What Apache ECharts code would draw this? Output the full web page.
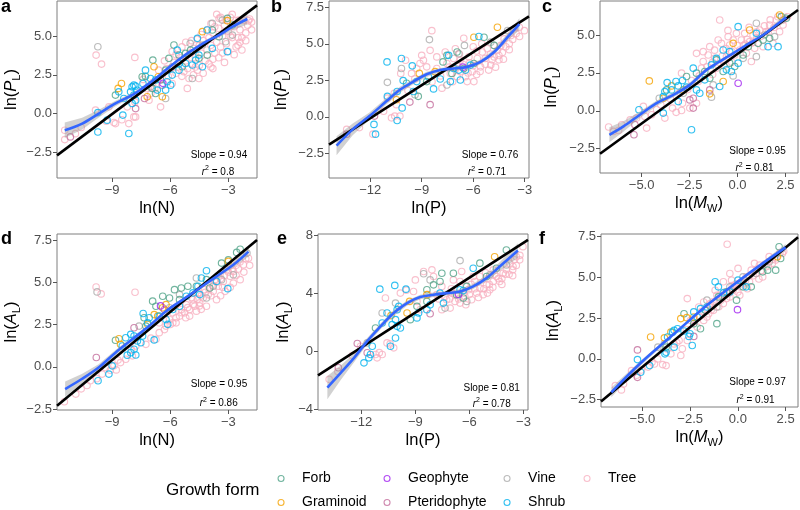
<!DOCTYPE html>
<html><head><meta charset="utf-8">
<script src="https://cdn.jsdelivr.net/npm/echarts@6/dist/echarts.min.js"></script>
<style>html,body{margin:0;padding:0;background:#fff}#c{width:800px;height:510px}</style>
</head><body><div id="c"></div>
<script>
// ---------------- DATA ----------------
// Panel a: x = ln(N), y = ln(P_L)
const a_Shrub = [[-9.74,0.06],[-9.74,-1.19],[-9.26,-0.43],[-8.45,-0.1],[-8.14,-1.29],[-8.66,1.4],[-8.4,0.97],[-7.97,1.72],[-7.88,1.83],[-7.79,1.77],[-7.71,1.5],[-8.05,1.4],[-7.88,1.19],[-7.79,0.86],[-7.97,0.65],[-7.28,2.8],[-7.41,1.94],[-7.02,2.26],[-6.76,2.16],[-6.67,1.51],[-6.24,1.51],[-6.16,2.05],[-5.98,1.83],[-5.9,2.48],[-5.64,4.09],[-5.55,3.23],[-5.21,3.23],[-4.86,3.13],[-4.69,3.45],[-4.52,3.77],[-4.6,4.85],[-4.34,3.02],[-4.09,5.39],[-3.83,4.2],[-3.05,3.99],[-5.55,2.8]];
const a_Forb = [[-8.83,1.19],[-7.45,2.37],[-7.28,2.4],[-6.93,1.62],[-6.76,1.29],[-6.5,2.16],[-6.24,2.8],[-6.07,3.56],[-5.81,4.42],[-5.55,3.77],[-5.38,3.02],[-5.21,3.88],[-4.95,4.09],[-4.52,3.56],[-4.09,3.77],[-3.83,5.39],[-3.48,4.96],[-3.05,6.14],[-2.79,5.71],[-6.9,3.45]];
const a_Graminoid = [[-8.52,1.94],[-8.69,1.62],[-7.19,1.08],[-6.84,3.02],[-6.62,2.37],[-6.41,1.08],[-4.34,5.28],[-3.05,5.99]];
const a_Vine = [[-9.74,4.31],[-7.02,1.72],[-6.24,0.97],[-5.9,3.02],[-4.97,4.53],[-4.34,4.42],[-3.83,5.82],[-3.31,6.03],[-3.14,4.63],[-2.79,5.06],[-4.86,2.26]];
const a_Pteridophyte = [[-11.16,-1.51],[-7.79,0.32],[-7.33,0.97],[-6.41,1.83]];
const a_Geophyte = [[-6.38,1.95]];
const a_Tree = [[-9.83,3.77],[-9.55,3.19],[-7.83,3.62],[-11.45,-1.68],[-11.45,-1.08],[-9.86,0.22],[-9.17,0.43],[-8.91,-0.58],[-8.83,-0.65],[-8.14,-0.65],[-7.88,-0.22],[-8.22,0.43],[-7.79,-0.22],[-7.83,0.75],[-6.5,0.43],[-7.1,0.86],[-5.9,1.94],[-5.12,1.62],[-4.52,2.26],[-5.03,2.26],[-6.0,2.9],[-5.8,3.3],[-5.6,3.0],[-5.5,3.6],[-5.3,2.7],[-5.2,3.4],[-5.0,3.9],[-4.9,3.2],[-4.8,4.2],[-4.7,3.6],[-4.6,2.8],[-4.5,4.4],[-4.4,3.9],[-4.3,4.7],[-4.2,3.4],[-4.1,4.1],[-4.0,4.9],[-3.9,4.4],[-3.8,5.2],[-3.7,3.9],[-3.6,4.6],[-3.5,5.5],[-3.4,4.3],[-3.3,5.0],[-3.2,5.7],[-3.1,4.5],[-3.0,5.3],[-2.9,6.2],[-2.8,4.9],[-2.7,5.6],[-2.6,6.0],[-2.5,4.9],[-2.4,5.4],[-2.2,6.0],[-2.0,5.7],[-1.9,6.1],[-4.4,5.1],[-3.9,5.8],[-3.4,6.2],[-5.4,4.3],[-5.9,4.0],[-6.3,3.4],[-6.6,2.8],[-6.9,2.0],[-7.2,1.6],[-7.4,2.2],[-6.1,2.4],[-3.8,3.5],[-3.3,3.9],[-2.6,4.3],[-2.3,4.9],[-4.9,4.7],[-3.6,6.4],[-2.8,6.4],[-3.48,6.14],[-2.45,6.03],[-1.97,5.99],[-10.6,-0.9],[-9.3,-0.5],[-8.5,-0.4],[-10.9,-1.3],[-5.7,2.6],[-5.4,2.4],[-5.1,2.9],[-4.8,2.5],[-4.5,3.1],[-4.3,2.6],[-4.0,3.2],[-3.8,2.9],[-3.5,3.6],[-3.2,3.3],[-3.0,4.0],[-2.7,3.8],[-2.5,4.4],[-2.3,4.1],[-2.1,4.7],[-2.1,5.2],[-1.8,5.9],[-1.8,5.4],[-2.9,5.0],[-3.1,6.0],[-3.7,5.6],[-4.1,5.4],[-4.6,4.8],[-5.2,4.6],[-5.7,3.8],[-6.2,2.9],[-6.5,2.2],[-6.8,1.6],[-7.0,1.3],[-4.7,3.0],[-3.9,3.0],[-2.4,4.6]];
const a_regX = [-11.85, -1.52];
const a_regY = [-2.7, 6.98];
const a_loX = [-11.45,-10.55,-9.69,-8.83,-7.97,-7.45,-6.76,-6.24,-5.55,-4.86,-4.17,-3.48,-2.79,-2.02];
const a_loY = [-1.08,-0.65,0.0,0.65,1.19,1.62,2.26,2.8,3.49,4.09,4.63,5.06,5.6,6.1];
const a_seW = [0.5,0.38,0.25,0.18,0.14,0.12,0.1,0.1,0.1,0.1,0.12,0.15,0.22,0.35];

// Panel b: x = ln(P), y = ln(P_L)
const b_Shrub = [[-11.02,3.76],[-10.18,3.99],[-9.55,3.49],[-10.08,2.48],[-11.0,1.4],[-10.43,1.73],[-11.78,-0.52],[-11.69,-1.19],[-10.43,-0.25],[-10.14,0.61],[-9.49,1.73],[-9.29,2.41],[-8.31,1.91],[-7.92,2.59],[-7.43,4.21],[-7.14,3.31],[-6.84,3.2],[-6.45,3.2],[-6.16,3.54],[-5.67,5.5],[-7.33,2.41],[-6.75,2.52],[-8.61,2.75]];
const b_Forb = [[-8.71,2.41],[-7.76,3.76],[-7.53,4.21],[-7.24,2.97],[-6.94,4.44],[-6.55,3.31],[-5.37,5.45],[-5.96,3.65],[-9.2,1.4],[-9.88,2.3],[-4.78,4.89]];
const b_Graminoid = [[-9.14,2.97],[-10.47,1.17],[-5.96,5.45],[-4.59,6.13],[-8.22,3.09]];
const b_Vine = [[-11.0,2.36],[-10.18,3.31],[-8.55,5.29],[-6.51,4.89],[-6.84,4.32],[-9.39,1.51],[-4.98,5.11],[-4.0,5.9],[-7.53,2.18]];
const b_Pteridophyte = [[-13.37,-1.19],[-11.75,0.05],[-9.69,1.01],[-8.51,0.83]];
const b_Geophyte = [[-6.6,3.4]];
const b_Tree = [[-13.37,-0.86],[-12.63,-0.74],[-11.84,-1.19],[-11.22,0.38],[-10.76,-0.07],[-10.57,0.05],[-10.27,0.05],[-11.0,1.28],[-10.47,0.83],[-10.22,2.97],[-9.94,3.87],[-9.59,2.97],[-9.1,3.65],[-9.0,4.21],[-8.51,4.55],[-8.41,5.9],[-8.12,4.1],[-7.82,1.96],[-8.9,3.87],[-7.53,3.65],[-7.14,3.99],[-6.75,3.87],[-6.55,5.38],[-6.25,4.1],[-6.06,3.09],[-5.96,2.41],[-5.76,3.99],[-5.57,3.42],[-5.47,4.44],[-5.18,4.66],[-4.98,3.54],[-4.78,4.1],[-4.59,4.55],[-4.39,4.89],[-4.2,5.34],[-3.8,5.56],[-3.61,6.01],[-3.31,6.13],[-3.02,5.9],[-4.24,3.94],[-6.75,3.09],[-6.45,2.75],[-6.35,2.41],[-8.12,3.31],[-7.33,2.97],[-6.94,2.75],[-7.63,4.44],[-7.04,4.66],[-9.29,3.31],[-8.71,3.42],[-5.3,4.0],[-5.0,4.3],[-4.5,3.9],[-3.9,4.6],[-5.8,4.5],[-6.2,3.7],[-7.0,3.3],[-6.6,3.6],[-6.3,3.0],[-6.0,3.5],[-5.8,2.9],[-5.6,3.1],[-5.3,3.6],[-5.1,3.2],[-4.9,3.9],[-4.7,3.4],[-4.5,4.2],[-4.3,4.4],[-4.1,4.8],[-3.9,5.0],[-3.7,5.3],[-3.5,5.7],[-3.3,5.5],[-4.8,4.9],[-5.5,5.0],[-6.0,4.8],[-6.8,4.3],[-7.4,3.4],[-7.9,2.8],[-8.4,2.4],[-9.4,2.6],[-9.8,1.8],[-10.6,1.6],[-7.2,2.4]];
const b_regX = [-14.4, -2.75];
const b_regY = [-1.91, 6.88];
const b_loX = [-13.96,-13.02,-12.04,-11.06,-10.27,-9.49,-8.71,-7.92,-7.14,-6.35,-5.57,-4.78,-4.0,-3.31];
const b_loY = [-1.98,-0.86,0.05,1.06,1.85,2.41,2.91,3.2,3.31,3.42,3.76,4.44,5.45,6.35];
const b_seW = [0.65,0.4,0.25,0.22,0.2,0.18,0.18,0.15,0.15,0.15,0.15,0.18,0.25,0.4];

// Panel c: x = ln(M_W), y = ln(P_L)
const c_Shrub = [[-5.14,0.07],[-3.87,0.94],[-3.79,1.27],[-3.67,1.86],[-3.44,1.38],[-3.21,1.93],[-3.09,1.64],[-2.87,2.0],[-2.66,1.56],[-3.09,0.61],[-2.4,-1.25],[-2.31,2.81],[-2.14,1.38],[-1.97,1.16],[-1.71,2.04],[-1.36,3.03],[-1.1,3.46],[-0.93,1.6],[-0.75,4.01],[-0.41,3.9],[-0.32,2.59],[0.03,3.14],[0.03,5.55],[0.98,5.11],[1.59,4.23],[2.11,4.23],[-3.87,-0.15],[-0.58,2.7]];
const c_Forb = [[-3.7,1.38],[-2.66,2.26],[-2.14,2.48],[-1.71,2.59],[-1.45,2.15],[-1.1,3.36],[-0.75,2.59],[-0.41,3.14],[-0.15,2.92],[0.29,3.68],[0.55,4.23],[1.07,4.45],[1.33,4.67],[1.67,4.78],[2.28,6.21],[2.54,6.1]];
const c_Graminoid = [[-4.6,1.97],[-3.87,0.83],[-3.44,1.64],[-2.83,1.38],[-1.45,1.12],[-0.75,1.93],[-0.23,4.45],[0.63,5.33],[2.19,6.32]];
const c_Vine = [[-4.08,0.83],[-2.83,1.16],[-1.36,0.9],[-1.27,1.71],[-0.23,2.3],[0.29,3.46],[0.98,3.57],[0.98,5.77],[1.41,5.0],[1.93,4.89],[-1.97,2.15]];
const c_Pteridophyte = [[-5.35,-0.92],[-5.4,-1.58],[-2.49,0.72],[-2.31,0.83],[-1.45,1.38],[-2.31,0.18]];
const c_Geophyte = [[0.03,1.82]];
const c_Tree = [[-6.72,-1.07],[-6.47,-1.36],[-6.04,-0.92],[-5.26,-0.48],[-4.83,-0.37],[-4.91,0.29],[-4.74,-1.14],[-4.48,-0.26],[-4.22,0.07],[-3.79,-0.48],[-3.39,0.18],[-2.92,0.02],[-2.87,0.5],[-2.49,0.18],[-2.14,0.5],[-2.05,1.93],[-1.79,3.25],[-1.53,3.68],[-1.45,4.23],[-1.19,3.46],[-1.01,4.67],[-0.93,5.99],[-0.84,4.45],[-0.58,3.57],[-0.49,4.89],[-0.41,4.34],[-0.23,4.67],[-0.06,5.11],[0.11,4.01],[0.2,4.67],[0.37,5.11],[0.46,3.79],[0.63,4.56],[0.81,5.0],[0.89,4.12],[1.15,5.33],[1.33,4.23],[1.5,5.22],[1.67,5.66],[1.85,4.45],[2.02,5.99],[2.19,5.22],[2.37,5.66],[-1.88,2.81],[-1.1,2.81],[-1.79,3.9],[-0.15,3.68],[0.72,3.25],[-2.92,2.48],[-2.14,3.79],[-0.3,3.2],[0.4,4.4],[1.0,4.8],[-0.7,3.0],[-1.3,2.4],[-2.6,1.4],[-1.6,2.9],[-1.3,3.2],[-1.0,3.0],[-0.8,3.6],[-0.6,4.1],[-0.3,3.9],[0.0,4.3],[0.3,4.3],[0.5,4.7],[0.8,4.5],[1.0,5.2],[1.2,4.9],[1.4,5.6],[1.6,5.2],[1.9,5.5],[2.1,6.2],[2.4,6.0],[2.6,6.2],[1.7,6.0],[0.6,5.5],[-0.5,5.3],[-1.2,4.0],[-2.0,2.3],[-2.4,2.0],[-3.0,1.2],[-3.5,0.8],[-4.0,0.4],[-5.6,-0.6],[-6.2,-1.3],[-3.2,-0.1]];
const c_regX = [-7.17, 3.15];
const c_regY = [-2.83, 6.65];
const c_loX = [-6.68,-5.95,-5.09,-4.22,-3.35,-2.49,-1.62,-0.93,-0.23,0.46,1.33,2.02,2.54];
const c_loY = [-1.58,-1.03,-0.26,0.5,1.05,1.71,2.7,3.25,3.79,4.34,5.0,5.66,6.16];
const c_seW = [0.5,0.35,0.22,0.18,0.15,0.15,0.13,0.12,0.1,0.1,0.12,0.18,0.28];

// Panel d: x = ln(N), y = ln(A_L)
const d_Shrub = [[-9.73,-0.82],[-9.0,0.06],[-9.17,-0.43],[-8.22,0.69],[-8.04,0.84],[-7.78,0.7],[-7.87,1.04],[-8.48,1.23],[-8.3,1.72],[-8.04,1.92],[-7.87,1.82],[-7.7,1.53],[-7.52,1.43],[-7.43,1.82],[-7.4,3.15],[-7.17,2.6],[-7.09,2.9],[-6.83,1.59],[-6.57,3.0],[-6.22,2.8],[-6.13,2.51],[-5.87,3.39],[-5.52,3.58],[-5.17,4.17],[-4.83,4.37],[-4.57,4.76],[-4.39,5.25],[-4.13,5.68],[-3.61,5.05],[-3.03,4.62],[-4.48,4.27]];
const d_Forb = [[-8.83,1.57],[-7.35,2.9],[-7.26,2.41],[-6.74,3.58],[-6.39,4.17],[-6.04,4.07],[-5.78,4.56],[-5.52,3.97],[-5.43,4.66],[-5.09,4.76],[-4.65,4.76],[-3.96,4.66],[-3.35,6.13],[-3.0,6.32],[-2.57,6.76],[-2.39,6.95],[-6.91,3.88],[-4.13,5.15]];
const d_Graminoid = [[-8.65,1.66],[-8.57,1.33],[-7.17,2.51],[-6.83,3.09],[-6.65,3.0],[-6.39,3.49],[-6.22,3.68],[-3.0,6.23]];
const d_Vine = [[-9.78,4.43],[-7.61,2.41],[-6.04,3.49],[-5.52,4.27],[-4.65,5.25],[-3.78,4.76],[-3.35,5.15],[-2.74,5.44],[-2.04,6.72],[-4.13,4.07]];
const d_Pteridophyte = [[-9.82,0.55],[-7.87,2.31],[-6.3,3.39]];
const d_Geophyte = [[-6.5,3.6]];
const d_Tree = [[-9.83,4.72],[-9.57,4.31],[-7.82,4.41],[-11.47,-2.06],[-10.88,-1.61],[-10.13,-0.82],[-9.52,-0.43],[-9.35,-0.04],[-8.91,0.06],[-8.79,-0.18],[-8.57,0.25],[-8.3,0.45],[-7.96,0.65],[-7.78,1.23],[-7.26,1.33],[-6.74,1.63],[-6.57,2.02],[-6.22,2.41],[-5.87,2.6],[-5.52,3.0],[-5.26,3.19],[-5.0,3.39],[-4.74,3.58],[-4.48,3.78],[-4.3,4.07],[-4.04,4.27],[-3.78,4.46],[-3.52,4.76],[-3.26,5.05],[-2.91,5.35],[-2.74,5.64],[-2.48,5.78],[-2.22,6.03],[-1.96,6.42],[-5.17,3.68],[-4.83,3.97],[-4.57,4.37],[-4.22,4.56],[-3.96,4.95],[-3.7,5.15],[-3.43,5.44],[-3.09,5.74],[-5.87,3.19],[-5.43,3.39],[-5.0,3.0],[-4.65,3.29],[-4.13,3.58],[-3.61,3.97],[-3.17,4.46],[-2.74,4.95],[-2.39,5.15],[-6.57,2.6],[-6.04,2.8],[-10.3,-1.1],[-9.1,-0.2],[-4.9,4.1],[-3.4,4.2],[-2.9,4.7],[-4.4,3.4],[-6.3,2.2],[-6.0,2.5],[-5.7,2.9],[-5.4,3.2],[-5.1,3.5],[-4.8,3.7],[-4.6,4.0],[-4.4,4.2],[-4.2,4.4],[-4.0,4.6],[-3.8,4.8],[-3.6,5.0],[-3.4,5.2],[-3.2,5.4],[-3.0,5.6],[-2.8,5.8],[-2.6,6.0],[-2.4,6.2],[-2.1,6.4],[-1.9,6.0],[-2.2,5.6],[-2.6,5.4],[-3.3,4.7],[-3.9,4.2],[-4.5,3.6],[-5.2,2.9],[-5.7,2.6],[-7.0,1.7],[-8.0,1.0],[-8.7,0.4],[-9.8,-0.7],[-10.6,-1.3]];
const d_regX = [-11.85, -1.52];
const d_regY = [-2.3, 7.5];
const d_loX = [-11.43,-10.57,-9.7,-8.83,-7.96,-7.09,-6.22,-5.35,-4.48,-3.61,-2.74,-1.96];
const d_loY = [-1.31,-0.72,-0.04,0.84,1.63,2.41,3.29,3.97,4.66,5.35,6.03,6.81];
const d_seW = [0.45,0.3,0.2,0.15,0.12,0.1,0.1,0.1,0.1,0.12,0.18,0.3];

// Panel e: x = ln(P), y = ln(A_L)
const e_Shrub = [[-10.97,4.27],[-10.14,4.53],[-9.52,4.27],[-10.84,1.94],[-10.01,2.86],[-9.92,3.09],[-10.1,2.17],[-10.01,1.71],[-9.83,1.6],[-10.1,0.91],[-10.38,0.34],[-11.49,-0.23],[-11.58,-0.46],[-11.85,-0.8],[-11.39,0.34],[-8.91,2.29],[-8.82,2.63],[-8.36,2.86],[-8.18,3.2],[-7.63,4.0],[-7.44,3.31],[-6.52,4.23],[-6.34,4.18],[-5.79,5.71],[-10.57,2.63],[-10.29,1.83]];
const e_Forb = [[-11.21,1.6],[-9.28,2.17],[-8.91,3.09],[-8.36,4.23],[-7.99,4.57],[-7.63,4.8],[-7.53,5.37],[-6.89,5.37],[-6.71,3.89],[-6.34,3.66],[-6.15,4.46],[-5.42,6.06],[-5.05,5.14],[-4.5,5.71],[-3.95,6.97],[-8.36,3.43]];
const e_Graminoid = [[-10.35,2.45],[-9.32,3.43],[-9.46,2.63],[-8.36,3.89],[-4.6,6.5]];
const e_Vine = [[-10.84,2.63],[-10.1,3.31],[-8.54,5.33],[-8.18,4.91],[-6.52,6.24],[-7.35,2.97],[-6.15,3.43],[-4.87,5.26],[-3.95,5.94],[-11.67,0.57]];
const e_Pteridophyte = [[-12.22,0.53],[-13.27,-1.14],[-11.67,-0.11],[-8.18,2.58]];
const e_Geophyte = [[-6.6,3.9]];
const e_Tree = [[-13.78,-1.94],[-12.04,0.34],[-11.21,-0.23],[-10.84,-0.23],[-11.12,-0.46],[-10.57,0.57],[-10.2,0.23],[-10.66,3.66],[-9.83,4.0],[-9.1,4.11],[-9.0,4.91],[-8.54,5.49],[-8.08,5.6],[-8.91,3.43],[-8.73,2.86],[-7.81,3.89],[-7.53,4.46],[-7.26,3.54],[-7.07,2.97],[-6.98,4.0],[-6.8,3.43],[-6.52,3.31],[-6.43,5.49],[-6.25,3.77],[-6.06,4.23],[-5.88,3.54],[-5.6,4.0],[-5.42,4.34],[-5.24,3.89],[-5.05,4.57],[-4.87,4.23],[-4.68,4.8],[-4.5,5.14],[-4.32,4.8],[-4.13,5.37],[-3.95,5.6],[-3.76,6.06],[-3.58,5.83],[-3.4,6.51],[-3.21,6.29],[-3.03,7.2],[-5.79,5.14],[-6.52,4.8],[-7.35,3.77],[-7.99,5.14],[-6.89,4.91],[-7.53,2.86],[-4.68,5.6],[-5.42,5.14],[-5.9,4.6],[-6.2,3.2],[-4.2,4.6],[-3.6,5.2],[-5.0,4.0],[-7.1,3.6],[-6.8,3.9],[-6.6,3.6],[-6.3,4.0],[-6.0,3.9],[-5.7,4.3],[-5.5,3.7],[-5.2,4.3],[-4.9,4.6],[-4.7,4.4],[-4.4,5.0],[-4.2,5.0],[-4.0,5.3],[-3.8,5.3],[-3.6,5.6],[-3.4,5.9],[-3.2,6.6],[-3.5,6.3],[-4.6,5.3],[-5.1,5.4],[-5.7,4.8],[-6.2,4.5],[-7.0,4.3],[-7.7,3.6],[-8.3,3.9],[-9.5,4.2],[-10.4,0.5],[-11.0,-0.1],[-12.5,-0.3],[-13.3,-1.4]];
const e_regX = [-14.4, -2.75];
const e_regY = [-1.67, 7.66];
const e_loX = [-13.88,-13.14,-12.4,-11.67,-10.93,-10.2,-9.46,-8.73,-7.99,-7.26,-6.52,-5.79,-5.05,-4.32,-3.31];
const e_loY = [-2.51,-1.49,-0.46,0.69,1.71,2.63,3.31,3.73,3.89,4.0,4.11,4.46,5.03,5.83,6.93];
const e_seW = [0.8,0.5,0.3,0.22,0.2,0.2,0.18,0.16,0.16,0.16,0.16,0.18,0.22,0.3,0.5];

// Panel f: x = ln(M_W), y = ln(A_L)
const f_Shrub = [[-5.26,-0.04],[-5.09,-0.82],[-4.62,-0.41],[-3.68,1.34],[-3.82,0.31],[-3.76,0.41],[-3.42,1.64],[-3.34,1.75],[-3.16,1.85],[-2.82,1.71],[-2.56,1.38],[-2.51,1.54],[-2.39,0.82],[-2.31,2.88],[-2.13,2.57],[-1.96,3.08],[-1.62,3.18],[-1.19,4.73],[-1.02,4.42],[-0.76,4.05],[-0.42,4.11],[0.01,4.83],[0.44,4.42],[-3.34,0.72]];
const f_Forb = [[-3.76,0.72],[-2.82,2.77],[-2.31,2.16],[-1.96,1.85],[-1.7,2.98],[-1.1,2.16],[-1.02,3.8],[-0.59,4.11],[0.27,4.42],[0.7,4.42],[1.3,5.34],[1.56,5.44],[1.98,5.44],[2.16,6.88],[2.24,6.16],[-0.07,3.6]];
const f_Graminoid = [[-4.57,1.34],[-3.85,1.29],[-2.99,2.47],[-2.68,2.53],[-2.31,2.57],[-3.51,1.64],[2.07,6.27]];
const f_Vine = [[-4.19,0.72],[-3.85,0.92],[-1.62,3.6],[-1.1,3.18],[-0.42,4.42],[0.27,5.03],[0.96,5.24],[1.64,5.96]];
const f_Pteridophyte = [[-5.26,0.55],[-5.26,-1.13],[-2.31,1.38]];
const f_Geophyte = [[-0.02,3.02]];
const f_Tree = [[-0.56,7.03],[-6.42,-1.64],[-5.99,-1.54],[-5.57,-0.72],[-5.05,-0.68],[-4.37,-0.31],[-3.94,-0.35],[-3.76,-0.41],[-3.51,0.31],[-2.99,0.21],[-2.91,0.62],[-2.65,1.13],[-2.13,1.95],[-1.79,2.36],[-1.53,2.77],[-1.45,3.39],[-1.28,2.98],[-1.1,3.6],[-0.93,3.9],[-0.76,3.39],[-0.59,3.7],[-0.42,3.8],[-0.33,4.83],[-0.25,4.21],[0.1,4.42],[0.1,3.9],[0.27,4.73],[0.44,5.03],[0.61,4.73],[0.7,5.44],[0.96,5.24],[1.13,5.75],[1.3,5.03],[1.47,5.65],[1.64,6.27],[1.81,5.86],[1.98,6.06],[2.33,6.47],[-0.42,5.24],[-0.76,4.73],[-1.19,4.21],[-1.79,3.49],[-2.05,3.18],[-2.48,2.36],[-3.08,1.13],[-3.34,0.92],[-2.65,3.7],[-1.62,2.57],[0.87,5.86],[0.01,5.55],[-0.2,4.5],[0.5,4.3],[1.1,4.9],[-1.4,3.0],[-2.0,2.6],[-1.9,2.9],[-1.7,3.0],[-1.5,3.3],[-1.3,3.5],[-1.1,3.9],[-0.9,3.6],[-0.7,4.1],[-0.5,4.0],[-0.3,4.5],[-0.1,4.6],[0.2,4.6],[0.4,4.8],[0.6,5.1],[0.8,5.1],[1.0,5.5],[1.2,5.4],[1.4,5.8],[1.6,5.7],[1.8,6.1],[2.0,6.2],[2.2,6.5],[2.4,6.6],[-2.3,2.4],[-2.7,1.8],[-3.2,1.0],[-3.7,0.6],[-4.2,0.0],[-4.7,-0.5],[-5.3,-1.0],[-6.1,-1.9],[-4.5,-0.2],[-1.0,3.2],[0.0,4.1]];
const f_regX = [-7.17, 3.15];
const f_regY = [-2.61, 7.46];
const f_loX = [-6.63,-5.05,-3.34,-1.62,0.1,1.3,2.5];
const f_loY = [-2.05,-0.21,1.54,3.29,4.83,5.86,6.84];
const f_seW = [0.3,0.15,0.1,0.08,0.08,0.12,0.2];

// Tick labels
const ticksN = [-9, -6, -3];
const ticksP = [-12, -9, -6, -3];
const ticksMw = [-5, -2.5, 0, 2.5];
const ticksYa = [-2.5, 0, 2.5, 5];
const ticksYb = [-2.5, 0, 2.5, 5, 7.5];
const ticksYe = [-4, 0, 4, 8];

const slopes = ['0.94', '0.76', '0.95', '0.95', '0.81', '0.97'];
const r2s = ['0.8', '0.71', '0.81', '0.86', '0.78', '0.91'];
const panelLetters = ['a', 'b', 'c', 'd', 'e', 'f'];
const growthForms = ['Forb', 'Graminoid', 'Geophyte', 'Pteridophyte', 'Vine', 'Shrub', 'Tree'];

// ---------------- STYLE / LAYOUT ----------------
const FONT = "'Liberation Sans', Arial, Helvetica, sans-serif";
const formColors = {Forb:'#4fa387', Graminoid:'#f5a300', Geophyte:'#a020f0', Pteridophyte:'#c36b9b', Vine:'#ababab', Shrub:'#00b2ee', Tree:'#f7b0c0'};
const drawOrder = ['Tree', 'Vine', 'Forb', 'Graminoid', 'Pteridophyte', 'Geophyte', 'Shrub'];

const panels = [
  {pts:{Forb:a_Forb,Graminoid:a_Graminoid,Geophyte:a_Geophyte,Pteridophyte:a_Pteridophyte,Vine:a_Vine,Shrub:a_Shrub,Tree:a_Tree},
   reg:[a_regX,a_regY], lo:[a_loX,a_loY,a_seW], xt:ticksN, yt:ticksYa, xd:0, yd:1, xn:'ln(N)', yn:'P',
   grid:{left:57,top:1,width:200,height:177}, xr:[-11.85,-1.52], yr:[-4.16,7.26], yGap:35,
   letter:[1,7], ann:[219,155,218,172]},
  {pts:{Forb:b_Forb,Graminoid:b_Graminoid,Geophyte:b_Geophyte,Pteridophyte:b_Pteridophyte,Vine:b_Vine,Shrub:b_Shrub,Tree:b_Tree},
   reg:[b_regX,b_regY], lo:[b_loX,b_loY,b_seW], xt:ticksP, yt:ticksYb, xd:0, yd:1, xn:'ln(P)', yn:'P',
   grid:{left:329,top:1,width:200,height:177}, xr:[-14.4,-2.75], yr:[-4.19,7.93], yGap:36.5,
   letter:[271,7], ann:[490,155,487,172.3]},
  {pts:{Forb:c_Forb,Graminoid:c_Graminoid,Geophyte:c_Geophyte,Pteridophyte:c_Pteridophyte,Vine:c_Vine,Shrub:c_Shrub,Tree:c_Tree},
   reg:[c_regX,c_regY], lo:[c_loX,c_loY,c_seW], xt:ticksMw, yt:ticksYa, xd:1, yd:1, xn:'Mw', yn:'P',
   grid:{left:600,top:1,width:198,height:172}, xr:[-7.17,3.15], yr:[-4.1,7.24], yGap:37.5,
   letter:[542,7], ann:[757.5,151.7,754.5,168.3]},
  {pts:{Forb:d_Forb,Graminoid:d_Graminoid,Geophyte:d_Geophyte,Pteridophyte:d_Pteridophyte,Vine:d_Vine,Shrub:d_Shrub,Tree:d_Tree},
   reg:[d_regX,d_regY], lo:[d_loX,d_loY,d_seW], xt:ticksN, yt:ticksYb, xd:0, yd:1, xn:'ln(N)', yn:'A',
   grid:{left:57,top:234,width:200,height:176}, xr:[-11.85,-1.52], yr:[-2.55,7.85], yGap:35,
   letter:[1,239], ann:[219,384,218.7,403.3]},
  {pts:{Forb:e_Forb,Graminoid:e_Graminoid,Geophyte:e_Geophyte,Pteridophyte:e_Pteridophyte,Vine:e_Vine,Shrub:e_Shrub,Tree:e_Tree},
   reg:[e_regX,e_regY], lo:[e_loX,e_loY,e_seW], xt:ticksP, yt:ticksYe, xd:0, yd:0, xn:'ln(P)', yn:'A',
   grid:{left:318,top:234,width:210,height:176}, xr:[-14.4,-2.75], yr:[-4.05,8.07], yGap:24,
   letter:[277,239], ann:[491.7,388.3,491.7,404]},
  {pts:{Forb:f_Forb,Graminoid:f_Graminoid,Geophyte:f_Geophyte,Pteridophyte:f_Pteridophyte,Vine:f_Vine,Shrub:f_Shrub,Tree:f_Tree},
   reg:[f_regX,f_regY], lo:[f_loX,f_loY,f_seW], xt:ticksMw, yt:ticksYb, xd:1, yd:1, xn:'Mw', yn:'A',
   grid:{left:601,top:234,width:197,height:173}, xr:[-7.17,3.15], yr:[-2.95,7.66], yGap:36.5,
   letter:[539,239], ann:[757.5,382.7,755.5,400.7]}
];

const fmt = (d) => (v) => (d ? Number(v).toFixed(d) : String(Math.round(v))).replace('-', '\u2212');
const nameRich = {
  n:{fontSize:16.5, fontFamily:FONT, color:'#000', lineHeight:22},
  i:{fontSize:16.5, fontFamily:FONT, color:'#000', fontStyle:'italic', lineHeight:22},
  s:{fontSize:11, fontFamily:FONT, color:'#000', lineHeight:11, verticalAlign:'bottom'}
};

const grids = [], xAxes = [], yAxes = [], series = [], graphics = [];
panels.forEach((p, i) => {
  grids.push(Object.assign({show:true, borderColor:'#7f7f7f', borderWidth:1, backgroundColor:'transparent'}, p.grid));
  const tickStyle = {show:true, inside:false, length:4, lineStyle:{color:'#555', width:1}};
  const xName = p.xn === 'Mw' ? '{n|ln(}{i|M}{s|W}{n|)}' : '{n|' + p.xn + '}';
  xAxes.push({type:'value', gridIndex:i, min:p.xr[0], max:p.xr[1], position:'bottom',
    axisLine:{show:false, onZero:false}, splitLine:{show:false},
    axisTick:Object.assign({customValues:p.xt}, tickStyle),
    axisLabel:{customValues:p.xt, formatter:fmt(p.xd), fontSize:13, color:'#4d4d4d', fontFamily:FONT, margin:6},
    name:xName, nameLocation:'middle', nameGap:19, nameTextStyle:{rich:nameRich}});
  yAxes.push({type:'value', gridIndex:i, min:p.yr[0], max:p.yr[1], position:'left',
    axisLine:{show:false, onZero:false}, splitLine:{show:false},
    axisTick:Object.assign({customValues:p.yt}, tickStyle),
    axisLabel:{customValues:p.yt, formatter:fmt(p.yd), fontSize:13, color:'#4d4d4d', fontFamily:FONT, margin:5},
    name:'{n|ln(}{i|' + p.yn + '}{s|L}{n|)}', nameLocation:'middle', nameGap:p.yGap, nameTextStyle:{rich:nameRich}});

  drawOrder.forEach(f => {
    series.push({type:'scatter', name:f, xAxisIndex:i, yAxisIndex:i, data:p.pts[f], symbol:'circle', symbolSize:6.5,
      itemStyle:{color:'rgba(0,0,0,0)', borderColor:formColors[f], borderWidth:1.15}, z:2, silent:true});
  });
  const [lx, ly, lw] = p.lo;
  series.push({type:'custom', xAxisIndex:i, yAxisIndex:i, silent:true, clip:true, z:3,
    data:[[lx[0], ly[0]]],
    renderItem:(params, api) => {
      const pts = [];
      for (let k = 0; k < lx.length; k++) pts.push(api.coord([lx[k], ly[k] + lw[k]]));
      for (let k = lx.length - 1; k >= 0; k--) pts.push(api.coord([lx[k], ly[k] - lw[k]]));
      return {type:'polygon', shape:{points:pts}, style:{fill:'rgba(153,153,153,0.45)'}};
    }});
  series.push({type:'line', xAxisIndex:i, yAxisIndex:i, silent:true, showSymbol:false, z:4,
    data:p.reg[0].map((x, k) => [x, p.reg[1][k]]), lineStyle:{color:'#000', width:2.6}});
  series.push({type:'line', xAxisIndex:i, yAxisIndex:i, silent:true, showSymbol:false, z:5, smooth:0.35,
    data:lx.map((x, k) => [x, ly[k]]), lineStyle:{color:'#3366ff', width:2.6}});

  graphics.push({type:'text', x:p.letter[0], y:p.letter[1], style:{text:panelLetters[i], font:'bold 18px ' + FONT, fill:'#000', verticalAlign:'middle', align:'left'}});
  graphics.push({type:'text', x:p.ann[0], y:p.ann[1], style:{text:'Slope = ' + slopes[i], font:'10px ' + FONT, fill:'#000', align:'center', verticalAlign:'middle'}});
  graphics.push({type:'text', x:p.ann[2], y:p.ann[3], style:{text:'{i|r}{p|2}{n| = ' + r2s[i] + '}', align:'center', verticalAlign:'middle',
    rich:{i:{fontSize:10, fontFamily:FONT, fontStyle:'italic', fill:'#000', lineHeight:14},
          p:{fontSize:7, fontFamily:FONT, fill:'#000', verticalAlign:'top', lineHeight:14},
          n:{fontSize:10, fontFamily:FONT, fill:'#000', lineHeight:14}}}});
});

graphics.push({type:'text', x:166, y:490, style:{text:'Growth form', font:'17px ' + FONT, fill:'#000', verticalAlign:'middle', align:'left'}});

const legendCols = [[growthForms[0], growthForms[1]], [growthForms[2], growthForms[3]], [growthForms[4], growthForms[5]], [growthForms[6]]];
const legendLeft = [277.5, 383.5, 503.5, 583.5];
const legends = legendCols.map((cols, k) => ({
  orient:'vertical', left:legendLeft[k], top:471.5, padding:0, itemGap:10, itemWidth:32, itemHeight:6, icon:'circle',
  selectedMode:false, data:cols,
  itemStyle:{color:'rgba(0,0,0,0)', borderWidth:1.1},
  textStyle:{fontSize:14, color:'#000', fontFamily:FONT, padding:[0,0,0,0]}
}));

const chart = echarts.init(document.getElementById('c'), null, {renderer:'canvas'});
chart.setOption({
  animation:false, backgroundColor:'#fff', textStyle:{fontFamily:FONT},
  grid:grids, xAxis:xAxes, yAxis:yAxes, series:series, legend:legends, graphic:graphics
});
</script></body></html>
